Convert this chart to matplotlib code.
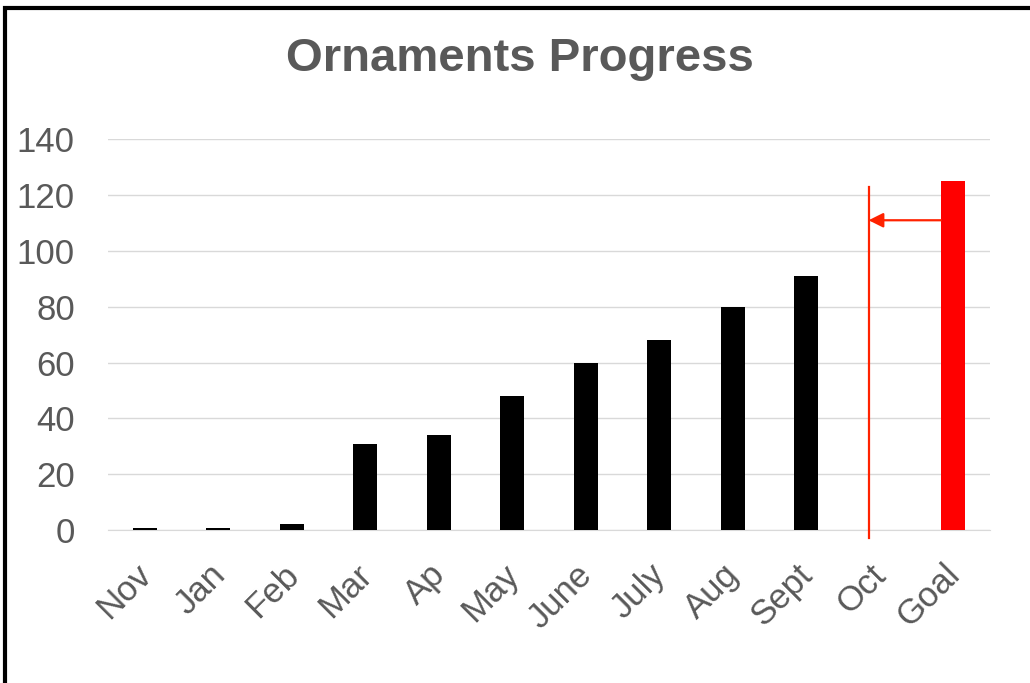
import matplotlib
matplotlib.use("Agg")
import matplotlib.pyplot as plt
import matplotlib.transforms as mtransforms
from matplotlib.patches import Rectangle

# data
months = ["Nov", "Jan", "Feb", "Mar", "Ap", "May", "June", "July", "Aug", "Sept", "Oct", "Goal"]
counts = [0.6, 0.6, 2, 31, 34, 48, 60, 68, 80, 91, 0, 125]
bar_colors = ["black"] * 11 + ["#FF0000"]
goal_line_top = 123
arrow_level = 111

plt.rcParams['font.family'] = ['Liberation Sans', 'DejaVu Sans']
grey = "#595959"

fig = plt.figure(figsize=(10.30, 6.83), dpi=100)
ax = fig.add_axes([0.105, 0.224, 0.856, 0.572])

x = list(range(len(months)))
bar_w = 0.33
ax.bar(x, counts, width=bar_w, color=bar_colors, zorder=3)

# red marker line near Oct and arrow from goal bar
oct_i = months.index("Oct")
goal_i = months.index("Goal")
line_x = oct_i - 0.15
ax.plot([line_x, line_x], [-3, goal_line_top], color="#FF2200", lw=1.6, zorder=4, clip_on=False)
ax.annotate("", xy=(line_x, arrow_level), xytext=(goal_i - bar_w / 2, arrow_level),
            arrowprops=dict(arrowstyle="-|>", color="#FF2200", lw=1.6, mutation_scale=22,
                            shrinkA=0, shrinkB=0),
            zorder=4)

ax.set_xlim(-0.5, len(months) - 0.5)
ax.set_ylim(0, 140)
ax.set_yticks(range(0, 141, 20))
ax.set_xticks(x)
ax.set_xticklabels(months, rotation=45, ha="right", rotation_mode="anchor")
ax.tick_params(axis="both", length=0, labelsize=25, colors=grey)
ax.tick_params(axis="y", pad=24)
ax.tick_params(axis="x", pad=18)
shift = mtransforms.ScaledTranslation(-10 / 100, -3 / 100, fig.dpi_scale_trans)
for lbl in ax.get_xticklabels():
    lbl.set_transform(lbl.get_transform() + shift)
ax.grid(axis="y", color="#D9D9D9", lw=1, zorder=0)
for s in ["top", "right", "left"]:
    ax.spines[s].set_visible(False)
ax.spines["bottom"].set_color("#D9D9D9")

fig.text(0.505, 0.913, "Ornaments Progress", ha="center", va="center",
         fontsize=34, fontweight="bold", color=grey)

# frame round the figure
fig.patches.append(Rectangle((0.005, -0.02), 1.2, 1.008, transform=fig.transFigure,
                             fill=False, edgecolor="black", lw=3))

fig.savefig("out.png", dpi=100)
